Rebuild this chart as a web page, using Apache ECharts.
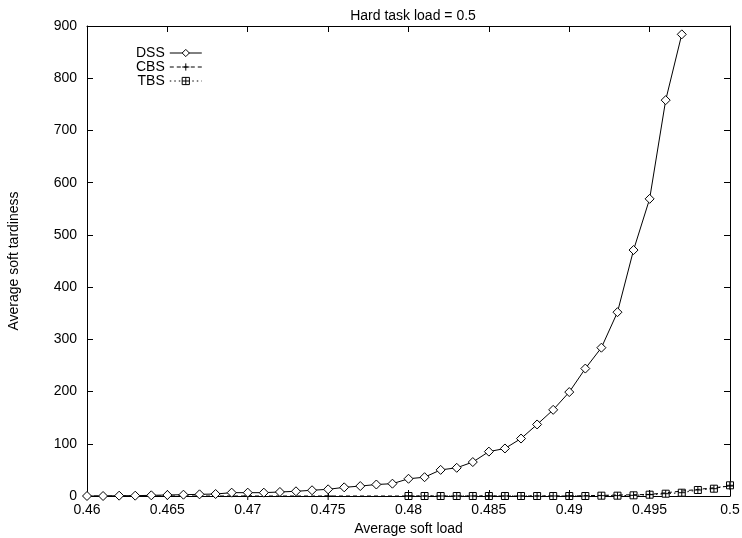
<!DOCTYPE html>
<html>
<head>
<meta charset="utf-8">
<script src="https://cdn.jsdelivr.net/npm/echarts@6/dist/echarts.min.js"></script>
<style>
html,body{margin:0;padding:0;background:#fff;}
#c{width:742px;height:538px;}
</style>
</head>
<body>
<div id="c"></div>
<script>
// ---- data ----
var titleText = 'Hard task load = 0.5';
var xName = 'Average soft load';
var yName = 'Average soft tardiness';
var seriesNames = ['DSS', 'CBS', 'TBS'];

var dssX = [0.460,0.461,0.462,0.463,0.464,0.465,0.466,0.467,0.468,0.469,
            0.470,0.471,0.472,0.473,0.474,0.475,0.476,0.477,0.478,0.479,
            0.480,0.481,0.482,0.483,0.484,0.485,0.486,0.487,0.488,0.489,
            0.490,0.491,0.492,0.493,0.494,0.495,0.496,0.497];
var dssY = [0,0,0.6,0.6,1.3,1.9,2.5,3.2,3.8,6.4,
            6.4,6.4,7.7,9,11,12.8,16.6,19,22,23.6,
            33,36,50,54,65,85,91,110,137,165,
            199,244,284,352,471,569,758,884];

var cbsX = [0.460,0.465,0.470,0.475,0.480,0.485,0.490,0.495,0.500];
var cbsY = [0,0,0,0,0,0,0,3,19];

var tbsX = [0.480,0.481,0.482,0.483,0.484,0.485,0.486,0.487,0.488,0.489,
            0.490,0.491,0.492,0.493,0.494,0.495,0.496,0.497,0.498,0.499,0.500];
var tbsY = [0,0,0,0,0,0,0,0,0,0,
            0,0,0.6,0.6,1.3,2.5,4.4,6.3,11.5,14,20.5];

var xMin = 0.46, xMax = 0.5, xStep = 0.005;
var yMin = 0, yMax = 900, yStep = 100;

function pairs(xs, ys){ return xs.map(function(x,i){ return [x, ys[i]]; }); }

var FONT = '"Liberation Sans", Arial, Helvetica, sans-serif';
var chart = echarts.init(document.getElementById('c'), null, {renderer:'canvas'});

var axisCommon = {
  axisLine:{show:true, onZero:false, lineStyle:{color:'#000', width:1}},
  axisTick:{show:true, inside:true, length:6, lineStyle:{color:'#000', width:1}},
  splitLine:{show:false}
};

function xfmt(v){ return String(parseFloat(v.toFixed(4))); }

chart.setOption({
  animation:false,
  backgroundColor:'#fff',
  title:{
    text:titleText, left:408, top:4, textAlign:'center',
    textStyle:{fontFamily:FONT, fontSize:14, fontWeight:'normal', color:'#000'}
  },
  legend:{
    orient:'vertical', left:131, top:41, align:'right',
    itemWidth:32, itemHeight:9, itemGap:0,
    lineStyle:{width:1},
    itemStyle:{borderWidth:1},
    textStyle:{fontFamily:FONT, fontSize:14, color:'#000', lineHeight:13, padding:[0,0,0,0]},
    data:seriesNames
  },
  grid:{left:87, right:12, top:26, bottom:42, containLabel:false, outerBoundsMode:'none'},
  xAxis:[
    Object.assign({}, axisCommon, {
      type:'value', min:xMin, max:xMax, interval:xStep, position:'bottom',
      name:xName, nameLocation:'middle', nameGap:26,
      nameTextStyle:{fontFamily:FONT, fontSize:14, color:'#000'},
      axisLabel:{fontFamily:FONT, fontSize:14, color:'#000', margin:7, formatter:xfmt}
    }),
    Object.assign({}, axisCommon, {
      type:'value', min:xMin, max:xMax, interval:xStep, position:'top',
      axisLabel:{show:false}
    })
  ],
  yAxis:[
    Object.assign({}, axisCommon, {
      type:'value', min:yMin, max:yMax, interval:yStep, position:'left',
      name:yName, nameLocation:'middle', nameGap:66, nameRotate:90,
      nameTextStyle:{fontFamily:FONT, fontSize:14, color:'#000'},
      axisLabel:{fontFamily:FONT, fontSize:14, color:'#000', margin:10}
    }),
    Object.assign({}, axisCommon, {
      type:'value', min:yMin, max:yMax, interval:yStep, position:'right',
      axisLabel:{show:false}
    })
  ],
  series:[
    {
      name:seriesNames[0], type:'line', data:pairs(dssX, dssY),
      xAxisIndex:0, yAxisIndex:0, clip:false, z:5,
      symbol:'diamond', symbolSize:9, showSymbol:true, showAllSymbol:true,
      lineStyle:{color:'#000', width:1, type:'solid'},
      itemStyle:{color:'#fff', borderColor:'#000', borderWidth:1}
    },
    {
      name:seriesNames[1], type:'line', data:pairs(cbsX, cbsY),
      xAxisIndex:0, yAxisIndex:0, clip:false, z:4,
      symbol:'path://M5,0L5,10M0,5L10,5', symbolSize:8, showSymbol:true,
      lineStyle:{color:'#000', width:1, type:[4,3]},
      itemStyle:{color:'#000', borderColor:'#000', borderWidth:1}
    },
    {
      name:seriesNames[2], type:'line', data:pairs(tbsX, tbsY),
      xAxisIndex:0, yAxisIndex:0, clip:false, z:3,
      symbol:'path://M0,0L10,0L10,10L0,10Z M5,0L5,10 M0,5L10,5', symbolSize:7, showSymbol:true, showAllSymbol:true,
      lineStyle:{color:'#000', width:1, type:[1.5,3]},
      itemStyle:{color:'#fff', borderColor:'#000', borderWidth:1}
    }
  ]
});
</script>
</body>
</html>
